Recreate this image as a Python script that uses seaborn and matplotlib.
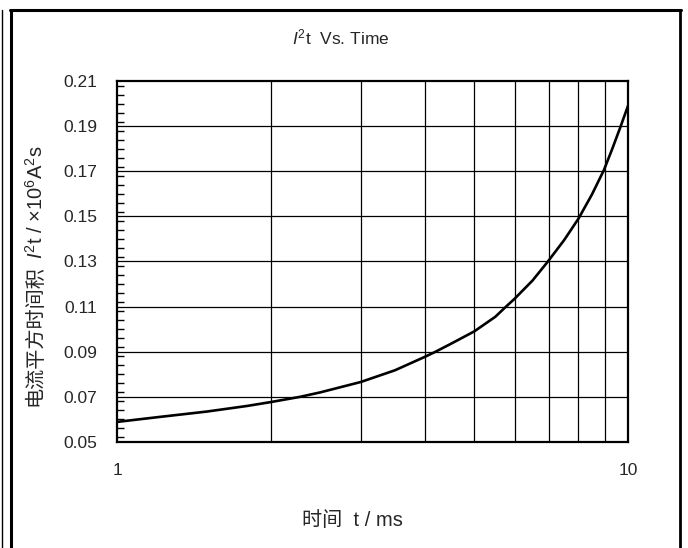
import matplotlib
matplotlib.use("Agg")
import matplotlib.pyplot as plt
import matplotlib.ticker as mticker
from matplotlib.lines import Line2D
import pandas as pd
import seaborn as sns

# values
time_ms = [1.0, 1.2, 1.5, 1.8, 2.0, 2.28, 2.5, 3.0, 3.5, 4.0, 4.2, 4.5, 5.0, 5.5, 5.74, 6.0,
           6.5, 6.97, 7.5, 8.0, 8.5, 8.97, 9.3, 9.66, 10.0]
i2t = [0.0589, 0.0610, 0.0635, 0.0660, 0.0677, 0.0700, 0.0720, 0.0766, 0.0818, 0.0877,
       0.0900, 0.0935, 0.0990, 0.1055, 0.1095, 0.1135, 0.1215, 0.1300, 0.1395, 0.1490,
       0.1597, 0.1705, 0.1795, 0.1895, 0.1990]
y_ticks = [0.05, 0.07, 0.09, 0.11, 0.13, 0.15, 0.17, 0.19, 0.21]
y_labels = ["0.05", "0.07", "0.09", "0.11", "0.13", "0.15", "0.17", "0.19", "0.21"]
x_grid = [2, 3, 4, 5, 6, 7, 8, 9]

df = pd.DataFrame({"t": time_ms, "i2t": i2t})

sns.set_style("white")
plt.rcParams["font.family"] = ["Liberation Sans", "Noto Sans CJK SC", "DejaVu Sans"]
plt.rcParams["mathtext.fontset"] = "custom"
plt.rcParams["mathtext.rm"] = "Liberation Sans"
plt.rcParams["mathtext.it"] = "Liberation Sans:italic"

W, H = 688, 548
fig = plt.figure(figsize=(W / 100, H / 100), dpi=100)
ax = fig.add_axes([117 / W, 1 - 442 / H, (628 - 117) / W, (442 - 81) / H])

sns.lineplot(data=df, x="t", y="i2t", ax=ax, color="black", linewidth=1.9)

ax.set_xscale("log")
ax.set_xlim(1, 10)
ax.set_ylim(0.05, 0.21)

ax.set_xticks([1, 10])
ax.set_xticklabels(["1", "10"])
ax.xaxis.set_minor_locator(mticker.FixedLocator(x_grid))
ax.xaxis.set_minor_formatter(mticker.NullFormatter())
ax.tick_params(axis="x", which="both", length=0, labelsize=12.5, pad=15)

ax.set_yticks(y_ticks)
ax.set_yticklabels(y_labels)
ax.yaxis.set_minor_locator(mticker.MultipleLocator(0.004))
ax.tick_params(axis="y", which="major", left=True, length=0, labelsize=12.5, pad=14)
ax.tick_params(axis="y", which="minor", left=True, direction="in", length=5, width=1,
               color="black")

for xv in x_grid:
    ax.axvline(xv, color="black", linewidth=0.9, zorder=1)
for yv in y_ticks[1:-1]:
    ax.axhline(yv, color="black", linewidth=0.9, zorder=1)

for s in ax.spines.values():
    s.set_visible(True)
    s.set_color("black")
    s.set_linewidth(1.6)

ax.set_xlabel("")
ax.set_ylabel("")

# titles and labels
fig.text(341 / W, 1 - 37 / H, "$I^2$t  Vs. Time", ha="center", va="center", fontsize=12.5)
fig.text(352 / W, 1 - 521 / H, "时间  t / ms", ha="center", va="center", fontsize=14.5)
fig.text(35 / W, 1 - 336 / H, "电流平方时间积", rotation=90, ha="center", va="center",
         fontsize=14.5, family=["Noto Sans CJK SC"])
fig.text(36 / W, 1 - 202 / H, "$I^2$t / $\\times$10$^6$A$^2$s", rotation=90,
         ha="center", va="center", fontsize=14.5)

# outer frame
fig.add_artist(Line2D([1.5 / W, 1.5 / W], [0, 1 - 10 / H], color="black", linewidth=1.0))
fig.add_artist(Line2D([11 / W, 11 / W], [0, 1 - 10 / H], color="black", linewidth=2.2))
fig.add_artist(Line2D([10 / W, 681 / W], [1 - 10 / H, 1 - 10 / H], color="black", linewidth=2.2))
fig.add_artist(Line2D([680 / W, 680 / W], [0, 1 - 10 / H], color="black", linewidth=2.0))

fig.savefig("out.png", dpi=100)
